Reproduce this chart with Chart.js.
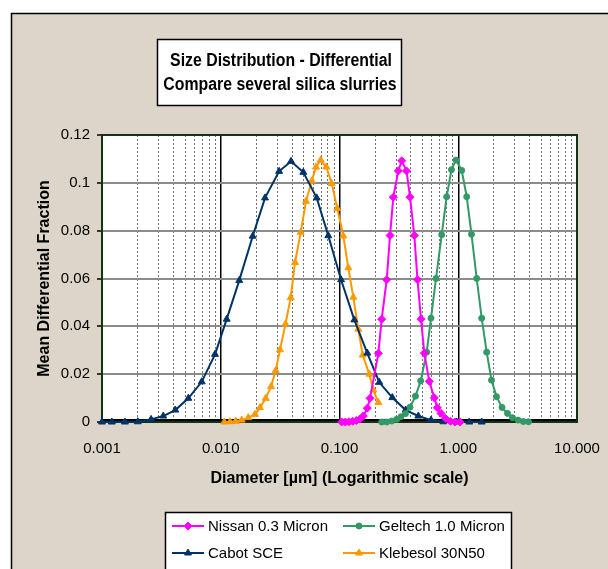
<!DOCTYPE html>
<html>
<head>
<meta charset="utf-8">
<script src="https://cdn.jsdelivr.net/npm/chart.js@4/dist/chart.umd.min.js"></script>
<style>
  html, body { margin: 0; padding: 0; background: #fff; }
  #wrap { width: 608px; height: 569px; }
</style>
</head>
<body>
<div id="wrap"><canvas id="chart" width="608" height="569"></canvas></div>
<script>
// particle diameter (um) and mean differential fraction per slurry
const nissanDiameter = [0.1043, 0.1119, 0.1202, 0.1292, 0.1386, 0.1480, 0.1587, 0.1715, 0.1807, 0.2123, 0.2267, 0.2498, 0.2664, 0.2839, 0.3128, 0.3341, 0.3666, 0.3924, 0.4265, 0.4538, 0.4858, 0.5177, 0.5704, 0.6284, 0.6661, 0.7156, 0.7809, 0.8604, 0.9389, 1.0345];
const nissanFraction = [0, 0, 0.0001, 0.0003, 0.0006, 0.0012, 0.0025, 0.0058, 0.0099, 0.0287, 0.0430, 0.0595, 0.0780, 0.0940, 0.1050, 0.1092, 0.1050, 0.0940, 0.0780, 0.0595, 0.0430, 0.0288, 0.0170, 0.0101, 0.0060, 0.0036, 0.0015, 0.0003, 0, 0];

const geltechDiameter = [0.2267, 0.2498, 0.2752, 0.3032, 0.3295, 0.3596, 0.3924, 0.4365, 0.4829, 0.5424, 0.5895, 0.6495, 0.7256, 0.7989, 0.8773, 0.9574, 1.0693, 1.1781, 1.2932, 1.4302, 1.5756, 1.7358, 1.9055, 2.0995, 2.3357, 2.5983, 2.8629, 3.1857, 3.5310, 3.9056];
const geltechFraction = [0, 0, 0.0004, 0.0011, 0.0022, 0.0035, 0.0062, 0.0108, 0.0172, 0.0292, 0.0434, 0.0600, 0.0783, 0.0942, 0.1055, 0.1095, 0.1052, 0.0942, 0.0785, 0.0600, 0.0434, 0.0292, 0.0175, 0.0106, 0.0061, 0.0036, 0.0018, 0.0008, 0.0002, 0.0001];

const cabotDiameter = [0.00100, 0.00121, 0.00156, 0.00200, 0.00259, 0.00328, 0.00414, 0.00533, 0.00691, 0.00895, 0.01122, 0.01432, 0.01858, 0.0236, 0.0310, 0.0391, 0.0496, 0.0643, 0.0805, 0.1031, 0.1333, 0.1714, 0.2163, 0.2784, 0.3606, 0.461, 0.590, 0.749, 0.970, 1.239, 1.575];
const cabotFraction = [0, 0, 0, 0.0001, 0.0011, 0.0025, 0.0050, 0.0099, 0.0168, 0.0283, 0.0430, 0.0592, 0.0777, 0.0937, 0.1048, 0.1090, 0.1044, 0.0937, 0.0779, 0.0595, 0.0427, 0.0288, 0.0166, 0.0102, 0.0050, 0.0025, 0.0008, 0.0001, 0, 0, 0];

const klebesolDiameter = [0.01072, 0.01196, 0.01336, 0.01501, 0.01706, 0.01943, 0.02141, 0.02390, 0.02650, 0.02902, 0.03155, 0.03510, 0.03882, 0.04220, 0.04713, 0.05224, 0.05834, 0.06341, 0.06947, 0.07744, 0.08598, 0.09583, 0.1077, 0.1186, 0.1307, 0.1440, 0.1568, 0.1782, 0.1926, 0.2123];
const klebesolFraction = [0, 0.0001, 0.0003, 0.0008, 0.0018, 0.0032, 0.0060, 0.0099, 0.0148, 0.0215, 0.0302, 0.0410, 0.0520, 0.0667, 0.0793, 0.0923, 0.1008, 0.1066, 0.1095, 0.1066, 0.0997, 0.0893, 0.0778, 0.0645, 0.0522, 0.0388, 0.0280, 0.0200, 0.0134, 0.0082];

const seriesNames = ['Nissan 0.3 Micron', 'Geltech 1.0 Micron', 'Cabot SCE', 'Klebesol 30N50'];

// axis ticks
const xDecades = [0.001, 0.01, 0.1, 1, 10];
const xDecadeLabels = ['0.001', '0.010', '0.100', '1.000', '10.000'];
const xMinorSteps = [2, 3, 4, 5, 6, 7, 8, 9];
const yTicks = [0, 0.02, 0.04, 0.06, 0.08, 0.1, 0.12];
const yTickLabels = ['0', '0.02', '0.04', '0.06', '0.08', '0.1', '0.12'];

const titleLines = ['Size Distribution - Differential', 'Compare several silica slurries'];
const xAxisTitle = 'Diameter [µm] (Logarithmic scale)';
const yAxisTitle = 'Mean Differential Fraction';

const FONT = "'Liberation Sans', Arial, sans-serif";
const BEIGE = '#ddd5c9';

const toPoints = (xs, ys) => xs.map((x, i) => ({ x: x, y: ys[i] }));

const xTickValues = [];
xDecades.forEach((d, i) => {
    xTickValues.push(d);
    if (i < xDecades.length - 1) xMinorSteps.forEach(m => xTickValues.push(d * m));
});

const decadeIndex = (v) => xDecades.findIndex(d => Math.abs(d - v) / d < 1e-6);
const isDecade = (c) => c.tick && decadeIndex(c.tick.value) >= 0;

const makeSet = (label, xs, ys, color, style, radius) => ({
    label: label,
    data: toPoints(xs, ys),
    borderColor: color,
    backgroundColor: color,
    borderWidth: 2,
    pointStyle: style,
    pointRadius: radius,
    pointHoverRadius: radius,
    pointBorderWidth: 1,
    tension: 0,
    fill: false,
    clip: false
});

const datasets = [
    makeSet(seriesNames[0], nissanDiameter, nissanFraction, '#ff00ff', 'rectRot', 4),
    makeSet(seriesNames[1], geltechDiameter, geltechFraction, '#339966', 'circle', 3),
    makeSet(seriesNames[2], cabotDiameter, cabotFraction, '#003366', 'triangle', 4),
    makeSet(seriesNames[3], klebesolDiameter, klebesolFraction, '#ff9900', 'triangle', 4)
];

// background, outer frame and white plot area
const backdrop = {
    id: 'backdrop',
    beforeDraw(chart) {
        const ctx = chart.ctx;
        const a = chart.chartArea;
        ctx.save();
        ctx.fillStyle = '#ffffff';
        ctx.fillRect(0, 0, chart.width, chart.height);
        ctx.fillStyle = BEIGE;
        ctx.fillRect(11, 13, chart.width - 11, chart.height - 13);
        ctx.strokeStyle = '#000';
        ctx.lineWidth = 1.5;
        ctx.beginPath();
        ctx.moveTo(11.5, chart.height);
        ctx.lineTo(11.5, 13.5);
        ctx.lineTo(chart.width, 13.5);
        ctx.stroke();
        ctx.fillStyle = '#ffffff';
        ctx.fillRect(a.left, a.top, a.right - a.left, a.bottom - a.top);
        ctx.restore();
    },
    beforeDatasetsDraw(chart) {
        const ctx = chart.ctx;
        const a = chart.chartArea;
        ctx.save();
        ctx.strokeStyle = '#000';
        ctx.lineWidth = 2;
        ctx.beginPath();
        ctx.moveTo(a.left, a.bottom - 2);
        ctx.lineTo(a.right, a.bottom - 2);
        ctx.stroke();
        ctx.strokeStyle = '#133313';
        ctx.lineWidth = 2;
        ctx.strokeRect(a.left, a.top, a.right - a.left, a.bottom - a.top);
        ctx.restore();
    }
};

// boxed two-line title and the two-column legend
const annotations = {
    id: 'annotations',
    afterDraw(chart) {
        const ctx = chart.ctx;
        ctx.save();

        ctx.fillStyle = '#fff';
        ctx.fillRect(157, 39, 245, 67);
        ctx.strokeStyle = '#000';
        ctx.lineWidth = 1.5;
        ctx.strokeRect(157.5, 39.5, 244, 66);
        ctx.fillStyle = '#000';
        ctx.font = 'bold 18px ' + FONT;
        ctx.textAlign = 'center';
        ctx.textBaseline = 'middle';
        // slightly condensed title lettering
        [[281, 61], [280, 85]].forEach((p, i) => {
            ctx.save();
            ctx.translate(p[0], p[1]);
            ctx.scale(0.88, 1);
            ctx.fillText(titleLines[i], 0, 0);
            ctx.restore();
        });

        ctx.fillStyle = '#fff';
        ctx.fillRect(165, 512, 347, 70);
        ctx.strokeStyle = '#000';
        ctx.lineWidth = 1.5;
        ctx.strokeRect(165.5, 512.5, 346, 70);

        const slots = [
            { x: 172, y: 526 }, { x: 343, y: 526 },
            { x: 172, y: 553 }, { x: 343, y: 553 }
        ];
        ctx.font = '15px ' + FONT;
        ctx.textAlign = 'left';
        chart.data.datasets.forEach((ds, i) => {
            const s = slots[i];
            ctx.strokeStyle = ds.borderColor;
            ctx.fillStyle = ds.backgroundColor;
            ctx.lineWidth = 2;
            ctx.beginPath();
            ctx.moveTo(s.x, s.y);
            ctx.lineTo(s.x + 32, s.y);
            ctx.stroke();
            ctx.lineWidth = 1;
            Chart.helpers.drawPoint(ctx, {
                pointStyle: ds.pointStyle,
                radius: ds.pointRadius,
                rotation: 0,
                borderWidth: 1
            }, s.x + 16, s.y);
            ctx.fillStyle = '#000';
            ctx.fillText(ds.label, s.x + 36, s.y + 1);
        });
        ctx.restore();
    }
};

new Chart(document.getElementById('chart'), {
    type: 'line',
    data: { datasets: datasets },
    options: {
        responsive: false,
        animation: false,
        layout: { padding: { top: 135, right: 31, bottom: 77, left: 0 } },
        plugins: {
            legend: { display: false },
            title: { display: false },
            tooltip: { enabled: false }
        },
        scales: {
            x: {
                type: 'logarithmic',
                min: 0.001,
                max: 10,
                afterBuildTicks: (scale) => {
                    scale.ticks = xTickValues.map(v => ({ value: v, major: decadeIndex(v) >= 0 }));
                },
                afterFit: (scale) => {
                    scale.height = 70;
                    scale.paddingLeft = 0;
                    scale.paddingRight = 0;
                },
                ticks: {
                    autoSkip: false,
                    maxRotation: 0,
                    padding: 18,
                    color: '#000',
                    font: { family: FONT, size: 15 },
                    callback: (v) => {
                        const k = decadeIndex(v);
                        return k >= 0 ? xDecadeLabels[k] : '';
                    }
                },
                grid: {
                    drawTicks: false,
                    color: (c) => isDecade(c) ? '#000' : '#707070',
                    lineWidth: (c) => isDecade(c) ? 1.5 : 1
                },
                border: {
                    display: false,
                    dash: (c) => isDecade(c) ? [] : [2, 2]
                },
                title: {
                    display: true,
                    text: xAxisTitle,
                    color: '#000',
                    font: { family: FONT, size: 16, weight: 'bold' },
                    padding: { top: 0, bottom: 4 }
                }
            },
            y: {
                min: 0,
                max: 0.12,
                afterBuildTicks: (scale) => {
                    scale.ticks = yTicks.map(v => ({ value: v }));
                },
                afterFit: (scale) => { scale.width = 102; },
                ticks: {
                    padding: 7,
                    color: '#000',
                    font: { family: FONT, size: 15 },
                    callback: (v, i) => yTickLabels[i]
                },
                grid: {
                    color: '#8c8c8c',
                    lineWidth: 2,
                    tickLength: 5,
                    tickColor: '#000',
                    tickWidth: 1.5
                },
                border: { display: false },
                title: {
                    display: true,
                    text: yAxisTitle,
                    color: '#000',
                    font: { family: FONT, size: 16, weight: 'bold' },
                    padding: { top: 35, bottom: 0 }
                }
            }
        }
    },
    plugins: [backdrop, annotations]
});
</script>
</body>
</html>
